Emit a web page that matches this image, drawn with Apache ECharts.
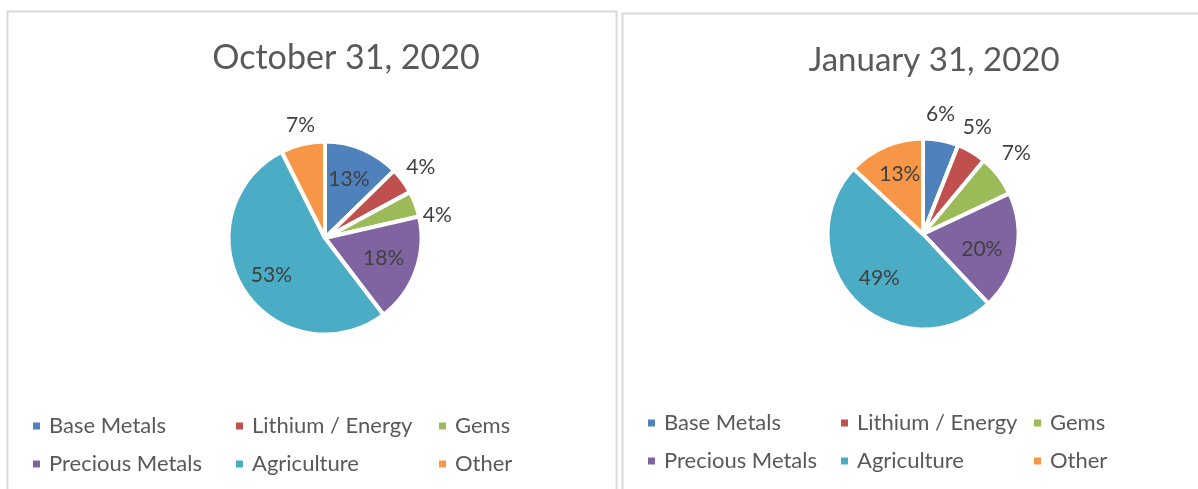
<!DOCTYPE html>
<html>
<head>
<meta charset="utf-8">
<script src="https://cdn.jsdelivr.net/npm/echarts@6/dist/echarts.min.js"></script>
<style>
html,body{margin:0;padding:0;background:#fff;}
#chart{width:1198px;height:489px;}
</style>
</head>
<body>
<div id="chart"></div>
<script>
// ---- data ----
const categories = ['Base Metals', 'Lithium / Energy', 'Gems', 'Precious Metals', 'Agriculture', 'Other'];
const titleLeft = 'October 31, 2020';
const titleRight = 'January 31, 2020';
const octValues = [12.7, 4.4, 4.3, 18.2, 52.9, 7.4];
const janValues = [6, 5, 7, 20, 49, 13];
const colors = ['#4f81bd', '#c0504d', '#9bbb59', '#8064a2', '#4bacc6', '#f79646'];
// labels placed outside the slice (style choice)
const outsideLeft = ['Lithium / Energy', 'Gems', 'Other'];
const outsideRight = ['Base Metals', 'Lithium / Energy', 'Gems'];
// small label nudges (best-fit style placement), [dx, dy]
const nudgeLeft = {'Base Metals': [-2, 3], 'Gems': [1, 19], 'Other': [3, 3], 'Precious Metals': [-4, -2], 'Agriculture': [3, 2]};
const nudgeRight = {'Base Metals': [-5, -1], 'Lithium / Energy': [-7, -3], 'Gems': [-2, -7], 'Precious Metals': [-6, 3], 'Other': [3, 1], 'Agriculture': [3, -2]};

const FONT = 'Lato, "Liberation Sans", sans-serif';
const chart = echarts.init(document.getElementById('chart'), null, {renderer: 'canvas'});

function mainPie(vals, center, r) {
  return {
    type: 'pie', center: center, radius: [0, r], startAngle: 90, clockwise: true,
    silent: true, animation: false,
    label: {show: false}, labelLine: {show: false},
    itemStyle: {borderColor: '#fff', borderWidth: 4},
    data: categories.map((c, i) => ({name: c, value: vals[i], itemStyle: {color: colors[i]}}))
  };
}
function labelPie(vals, center, r, outsideList, wantOutside, nudge) {
  return {
    type: 'pie', center: center, radius: [0, r], startAngle: 90, clockwise: true,
    silent: true, animation: false, avoidLabelOverlap: false,
    itemStyle: {color: 'rgba(0,0,0,0)', borderWidth: 0},
    emphasis: {disabled: true},
    label: {
      show: true, position: 'inside', color: '#404040', fontFamily: FONT, fontSize: 21,
      formatter: p => Math.round(p.percent) + '%'
    },
    labelLine: {show: false},
    labelLayout: p => {
      const n = nudge[categories[p.dataIndex]] || [0, 0];
      return {dx: n[0], dy: n[1]};
    },
    data: categories.map((c, i) => ({
      name: c, value: vals[i],
      label: {show: outsideList.includes(c) === wantOutside}
    }))
  };
}
function legend(left, top, textW) {
  return {
    left: left, top: top, width: 3 * (textW + 28) + 20, orient: 'horizontal',
    padding: 0,
    itemWidth: 9, itemHeight: 9, itemGap: 10, icon: 'rect',
    selectedMode: false,
    textStyle: {color: '#595959', fontFamily: FONT, fontSize: 22, width: textW, lineHeight: 28,
                padding: [0, 0, 0, 3]},
    data: categories.map((c, i) => ({name: c, itemStyle: {color: colors[i]}}))
  };
}

const cL = [325, 238], rL = 96.5;
const cR = [923, 234], rR = 95.5;

chart.setOption({
  animation: false,
  title: [
    {text: titleLeft, left: 341, top: 36, textAlign: 'center',
     textStyle: {color: '#595959', fontFamily: FONT, fontSize: 34, fontWeight: 'normal'}},
    {text: titleRight, left: 929, top: 39, textAlign: 'center',
     textStyle: {color: '#595959', fontFamily: FONT, fontSize: 33, fontWeight: 'normal'}}
  ],
  legend: [legend(31, 412, 175), legend(646, 409, 165)],
  graphic: [
    {type: 'rect', shape: {x: 7.5, y: 11.5, width: 609, height: 500}, style: {fill: 'none', stroke: '#d9d9d9', lineWidth: 2}, silent: true},
    {type: 'rect', shape: {x: 622.5, y: 13.5, width: 600, height: 500}, style: {fill: 'none', stroke: '#d9d9d9', lineWidth: 2}, silent: true}
  ],
  series: [
    mainPie(octValues, cL, rL),
    mainPie(janValues, cR, rR),
    labelPie(octValues, cL, 95 * 1.34, outsideLeft, false, nudgeLeft),
    labelPie(octValues, cL, 95 * 2.44, outsideLeft, true, nudgeLeft),
    labelPie(janValues, cR, 94 * 1.34, outsideRight, false, nudgeRight),
    labelPie(janValues, cR, 94 * 2.5, outsideRight, true, nudgeRight)
  ]
});
</script>
</body>
</html>
